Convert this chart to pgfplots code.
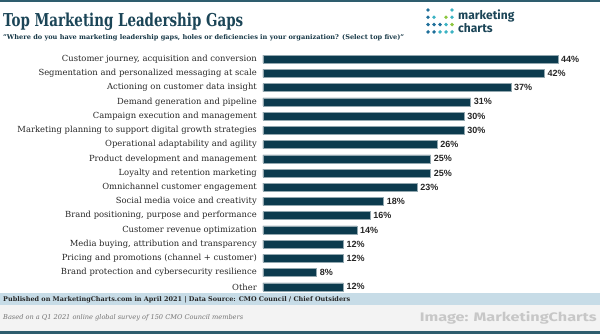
\documentclass[border=0pt]{standalone}
\usepackage{pgfplots}
\pgfplotsset{compat=1.18}
\usepackage{fontspec}
\setmainfont{DejaVu Serif}
\newfontfamily\valfont{Liberation Sans}
\newfontfamily\logofont{Fira Sans}
\definecolor{barc}{HTML}{0C3B4E}
\definecolor{titlec}{HTML}{1B4557}
\definecolor{topline}{HTML}{2E5D6E}
\definecolor{footblue}{HTML}{C7DCE7}
\definecolor{footgray}{HTML}{F3F3F3}
\definecolor{dotblue}{HTML}{1F6F9A}
\definecolor{dotteal}{HTML}{3BB3C3}
\definecolor{dotgreen}{HTML}{8DC63F}
\begin{document}
\begin{tikzpicture}
\useasboundingbox (0pt,0pt) rectangle (600pt,-334pt);
% frame bands
\fill[topline] (0pt,0pt) rectangle (600pt,-2.5pt);
\fill[footblue] (0pt,-293pt) rectangle (600pt,-304.5pt);
\fill[footgray] (0pt,-304.5pt) rectangle (600pt,-331pt);
\fill[topline] (0pt,-331pt) rectangle (600pt,-334pt);
% titles
\node[anchor=base west, inner sep=0pt, text=titlec] at (3pt,-27pt) {\resizebox{240pt}{13.5pt}{\bfseries Top Marketing Leadership Gaps}};
\node[anchor=base west, inner sep=0pt, text=titlec!80!black] at (3pt,-39.5pt) {\resizebox{401pt}{!}{\bfseries\fontsize{7.5}{8}\selectfont "Where do you have marketing leadership gaps, holes or deficiencies in your organization? (Select top five)"}};
% logo
\foreach \c/\r/\col in {0/0/dotblue,4/0/dotteal,0/1/dotblue,1/1/dotteal,3/1/dotgreen,4/1/dotteal,0/2/dotblue,1/2/dotblue,2/2/dotblue,3/2/dotteal,4/2/dotgreen,0/3/dotblue,1/3/dotblue,2/3/dotteal,3/3/dotteal,4/3/dotteal}
  \fill[\col] ({428pt+\c*6pt},{-10pt-\r*7.3pt}) circle (1.9pt);
\node[anchor=base west, inner sep=0pt, text=titlec] at (458pt,-20pt) {\logofont\bfseries\fontsize{12}{12}\selectfont marketing};
\node[anchor=base west, inner sep=0pt, text=titlec] at (458pt,-33pt) {\logofont\bfseries\fontsize{12}{12}\selectfont charts};
% footer
\node[anchor=base west, inner sep=0pt, text=black!85] at (3pt,-301.5pt) {\resizebox{347pt}{!}{\bfseries\fontsize{7}{8}\selectfont Published on MarketingCharts.com in April 2021 | Data Source: CMO Council / Chief Outsiders}};
\node[anchor=base west, inner sep=0pt, text=black!55] at (3pt,-319pt) {\resizebox{240pt}{!}{\itshape\fontsize{7}{8}\selectfont Based on a Q1 2021 online global survey of 150 CMO Council members}};
\node[anchor=base east, inner sep=0pt, text=black!22] at (597pt,-321pt) {\resizebox{177pt}{10pt}{\logofont\bfseries Image: MarketingCharts}};
\begin{axis}[
  at={(263pt,-52pt)}, anchor=north west,
  scale only axis, width=335pt, height=242pt,
  xbar, xmin=0, xmax=50, ymin=-0.5, ymax=16.5, y dir=reverse,
  axis line style={draw=none}, major tick length=0pt,
  xtick=\empty, ytick={0,...,16},
  yticklabels={{Customer journey, acquisition and conversion},
    Segmentation and personalized messaging at scale,
    Actioning on customer data insight,
    Demand generation and pipeline,
    Campaign execution and management,
    Marketing planning to support digital growth strategies,
    Operational adaptability and agility,
    Product development and management,
    Loyalty and retention marketing,
    Omnichannel customer engagement,
    Social media voice and creativity,
    {Brand positioning, purpose and performance},
    Customer revenue optimization,
    {Media buying, attribution and transparency},
    Pricing and promotions (channel + customer),
    Brand protection and cybersecurity resilience,
    Other},
  yticklabel style={font=\fontsize{8.4}{9}\selectfont, text=black!85, anchor=east, inner sep=0pt, xshift=-6pt},
  bar width=8pt, clip=false,
  point meta=x,
  nodes near coords={\valfont\bfseries\pgfmathprintnumber[assume math mode=true]{\pgfplotspointmeta}\%},
  nodes near coords style={font=\valfont\bfseries\fontsize{9}{9}\selectfont, text=black!85, anchor=west, inner sep=0pt, xshift=3pt},
]
\addplot[fill=barc, draw=barc!45!white, line width=0.5pt] table[x=v, y=i] {
i v
0 44
1 42
2 37
3 31
4 30
5 30
6 26
7 25
8 25
9 23
10 18
11 16
12 14
13 12
14 12
15 8
16 12
};
\end{axis}
\end{tikzpicture}
\end{document}
